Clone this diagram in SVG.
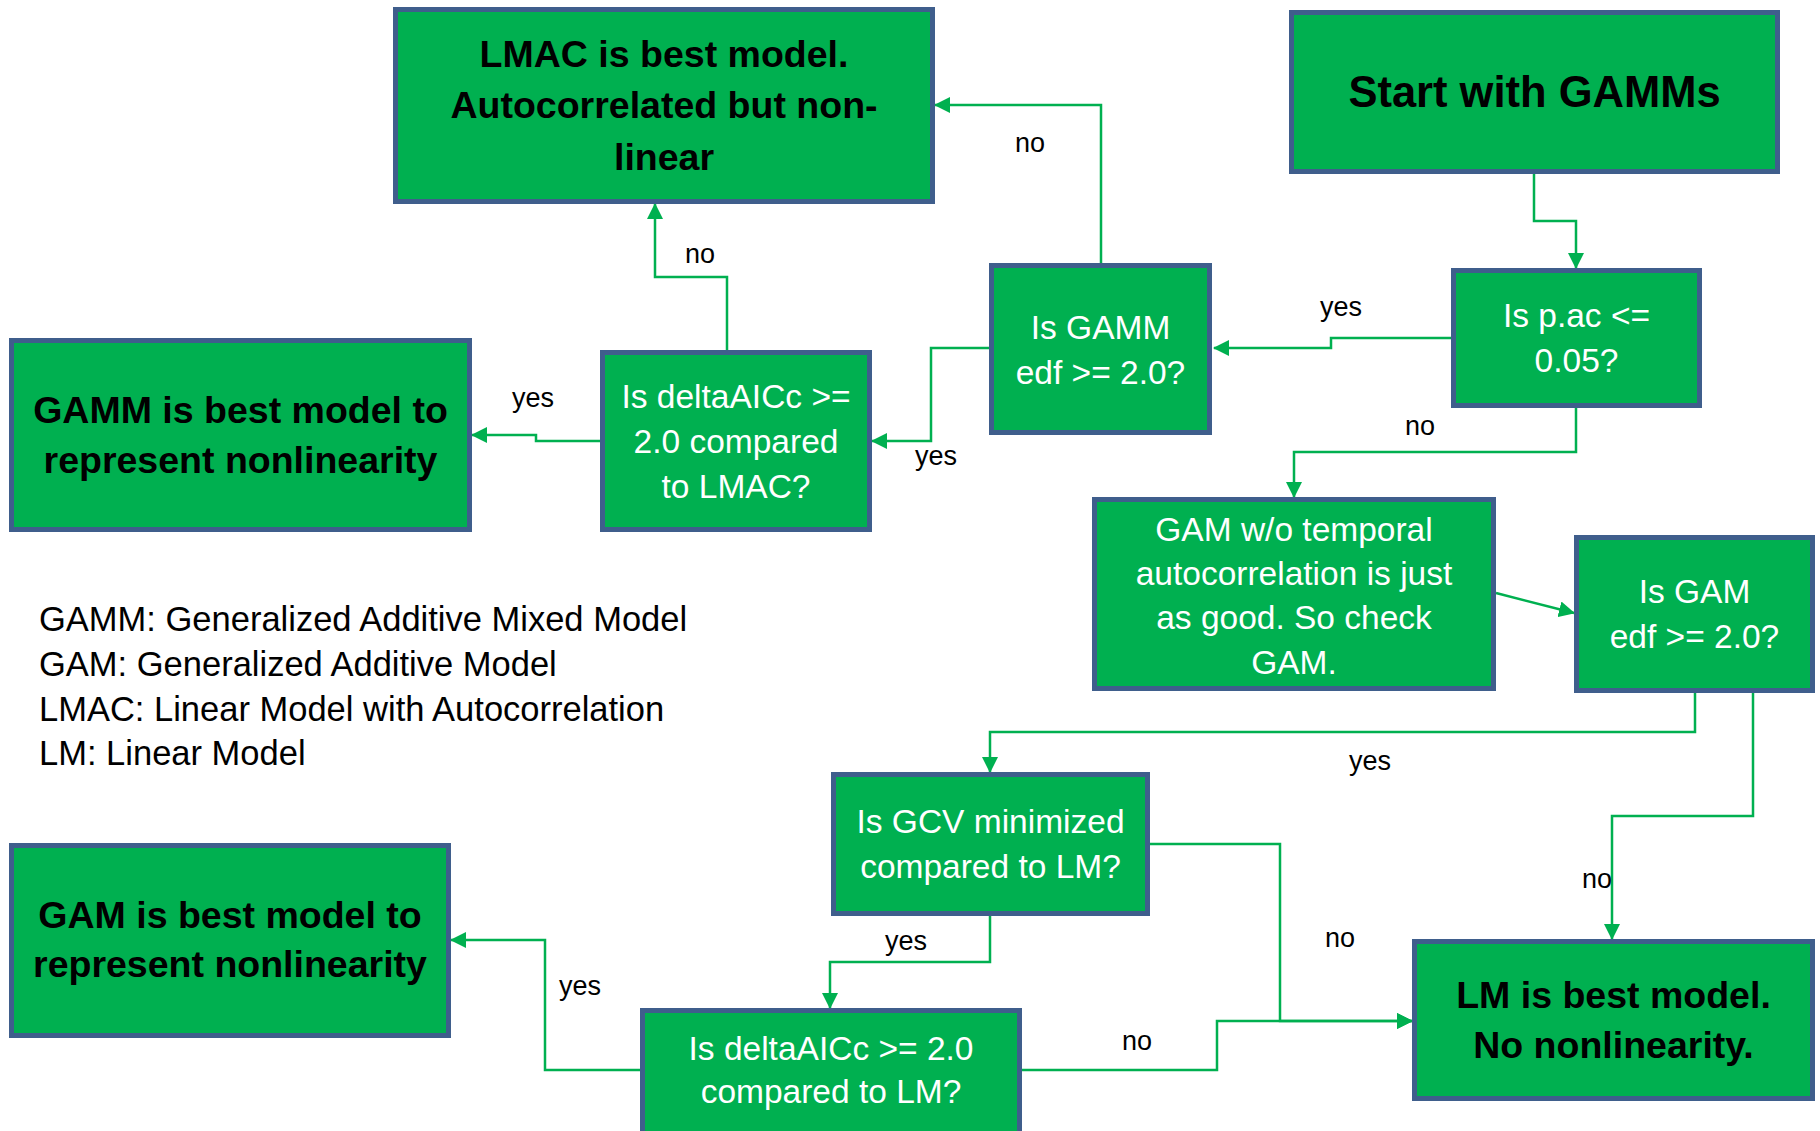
<svg xmlns="http://www.w3.org/2000/svg" width="1820" height="1131" viewBox="0 0 1820 1131">
<style>
.box{fill:#00B050;stroke:#3F5E8C;stroke-width:5}
.t{font-family:"Liberation Sans",Arial,sans-serif;text-anchor:middle}
.b{font-weight:bold;font-size:37.5px;fill:#000}
.r{font-size:33.5px;fill:#fff}
.lbl{font-family:"Liberation Sans",Arial,sans-serif;font-size:27px;fill:#000;text-anchor:middle}
.leg{font-family:"Liberation Sans",Arial,sans-serif;font-size:34.5px;fill:#000}
.c{fill:none;stroke:#00B050;stroke-width:2.5;marker-end:url(#arr)}
</style>
<defs>
<marker id="arr" markerUnits="userSpaceOnUse" markerWidth="16" markerHeight="16" viewBox="0 0 16 16" refX="15" refY="8" orient="auto">
<path d="M0,0 L16,8 L0,16 z" fill="#00B050"/>
</marker>
</defs>
<rect width="1820" height="1131" fill="#fff"/>
<g id="connectors">
<path class="c" d="M1534,173 V221 H1576 V268"/>
<path class="c" d="M1451,338 H1331 V348 H1214"/>
<path class="c" d="M1101,263 V105 H935"/>
<path class="c" d="M989,348 H931 V441 H872"/>
<path class="c" d="M727,350 V277 H655 V204"/>
<path class="c" d="M600,441 H536 V435 H472"/>
<path class="c" d="M1576,408 V452 H1294 V497"/>
<path class="c" d="M1496,593 L1574,613"/>
<path class="c" d="M1695,693 V732 H990 V772"/>
<path class="c" d="M1753,693 V816 H1612 V939"/>
<path class="c" d="M1150,844 H1280 V1021 H1412"/>
<path class="c" d="M990,916 V962 H830 V1008"/>
<path class="c" d="M640,1070 H545 V940 H451"/>
<path class="c" d="M1022,1070 H1217 V1021 H1412"/>
</g>
<g id="labels">
<text class="lbl" x="1030" y="152">no</text>
<text class="lbl" x="700" y="263">no</text>
<text class="lbl" x="1341" y="316">yes</text>
<text class="lbl" x="1420" y="435">no</text>
<text class="lbl" x="533" y="407">yes</text>
<text class="lbl" x="936" y="465">yes</text>
<text class="lbl" x="1370" y="770">yes</text>
<text class="lbl" x="1597" y="888">no</text>
<text class="lbl" x="1340" y="947">no</text>
<text class="lbl" x="906" y="950">yes</text>
<text class="lbl" x="1137" y="1050">no</text>
<text class="lbl" x="580" y="995">yes</text>
</g>
<g id="lmac-best">
<rect class="box" x="395.5" y="9.5" width="537" height="192"/>
<text class="t b" x="664" y="67">LMAC is best model.</text>
<text class="t b" x="664" y="118">Autocorrelated but non-</text>
<text class="t b" x="664" y="170">linear</text>
</g>
<g id="start">
<rect class="box" x="1291.5" y="12.5" width="486" height="159"/>
<text class="t" x="1534.5" y="107" font-weight="bold" font-size="43.5px">Start with GAMMs</text>
</g>
<g id="gamm-edf">
<rect class="box" x="991.5" y="265.5" width="218" height="167"/>
<text class="t r" x="1100.5" y="339">Is GAMM</text>
<text class="t r" x="1100.5" y="384">edf &gt;= 2.0?</text>
</g>
<g id="pac">
<rect class="box" x="1453.5" y="270.5" width="246" height="135"/>
<text class="t r" x="1576.5" y="327">Is p.ac &lt;=</text>
<text class="t r" x="1576.5" y="372">0.05?</text>
</g>
<g id="gamm-best">
<rect class="box" x="11.5" y="340.5" width="458" height="189"/>
<text class="t b" x="240.5" y="423">GAMM is best model to</text>
<text class="t b" x="240.5" y="473">represent nonlinearity</text>
</g>
<g id="delta-lmac">
<rect class="box" x="602.5" y="352.5" width="267" height="177"/>
<text class="t r" x="736" y="408">Is deltaAICc &gt;=</text>
<text class="t r" x="736" y="453">2.0 compared</text>
<text class="t r" x="736" y="498">to LMAC?</text>
</g>
<g id="gam-wo">
<rect class="box" x="1094.5" y="499.5" width="399" height="189"/>
<text class="t r" x="1294" y="541" font-size="35px">GAM w/o temporal</text>
<text class="t r" x="1294" y="585" font-size="35px">autocorrelation is just</text>
<text class="t r" x="1294" y="629" font-size="35px">as good. So check</text>
<text class="t r" x="1294" y="674" font-size="35px">GAM.</text>
</g>
<g id="gam-edf">
<rect class="box" x="1576.5" y="537.5" width="236" height="153"/>
<text class="t r" x="1694.5" y="603">Is GAM</text>
<text class="t r" x="1694.5" y="648">edf &gt;= 2.0?</text>
</g>
<g id="legend">
<text class="leg" x="39" y="631">GAMM: Generalized Additive Mixed Model</text>
<text class="leg" x="39" y="676">GAM: Generalized Additive Model</text>
<text class="leg" x="39" y="721">LMAC: Linear Model with Autocorrelation</text>
<text class="leg" x="39" y="765">LM: Linear Model</text>
</g>
<g id="gcv">
<rect class="box" x="833.5" y="774.5" width="314" height="139"/>
<text class="t r" x="990.5" y="833">Is GCV minimized</text>
<text class="t r" x="990.5" y="878">compared to LM?</text>
</g>
<g id="gam-best">
<rect class="box" x="11.5" y="845.5" width="437" height="190"/>
<text class="t b" x="230" y="928">GAM is best model to</text>
<text class="t b" x="230" y="977">represent nonlinearity</text>
</g>
<g id="lm-best">
<rect class="box" x="1414.5" y="941.5" width="398" height="157"/>
<text class="t b" x="1613.5" y="1008">LM is best model.</text>
<text class="t b" x="1613.5" y="1058">No nonlinearity.</text>
</g>
<g id="delta-lm">
<rect class="box" x="642.5" y="1010.5" width="377" height="130"/>
<text class="t r" x="831" y="1060">Is deltaAICc &gt;= 2.0</text>
<text class="t r" x="831" y="1103">compared to LM?</text>
</g>
</svg>
